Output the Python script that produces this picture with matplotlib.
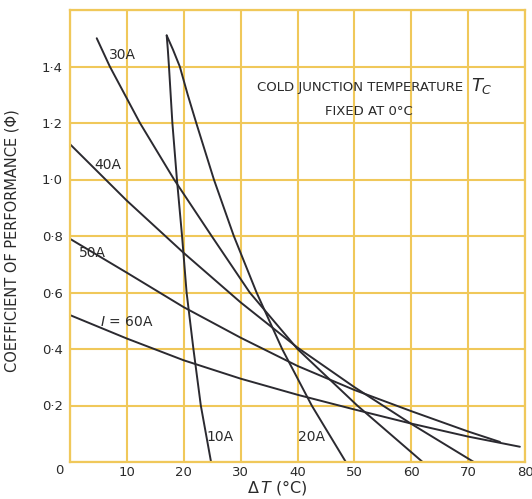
import matplotlib
matplotlib.use('Agg')
import matplotlib.pyplot as plt

# values: delta T (x) vs coefficient of performance (y)
dt_10a = [17.0, 17.2, 17.4, 18.0, 18.8, 19.7, 20.5, 21.7, 23.0, 24.8]
cop_10a = [1.51, 1.46, 1.40, 1.20, 1.00, 0.80, 0.60, 0.40, 0.20, 0.0]

dt_20a = [17.0, 18.1, 19.3, 20.7, 22.2, 25.3, 28.8, 32.8, 37.3, 42.5, 48.5]
cop_20a = [1.51, 1.46, 1.40, 1.30, 1.20, 1.00, 0.80, 0.60, 0.40, 0.20, 0.0]

dt_30a = [4.7, 7.0, 12.3, 18.3, 24.9, 31.6, 40.0, 50.5, 62.0]
cop_30a = [1.50, 1.40, 1.20, 1.00, 0.80, 0.60, 0.40, 0.20, 0.0]

dt_40a = [0, 10, 20, 30, 40, 50, 60, 71.0]
cop_40a = [1.125, 0.925, 0.74, 0.565, 0.405, 0.265, 0.135, 0.0]

dt_50a = [0, 10, 20, 30, 40, 50, 60, 70, 75.6]
cop_50a = [0.79, 0.67, 0.548, 0.44, 0.34, 0.255, 0.18, 0.108, 0.071]

dt_60a = [0, 10, 20, 30, 40, 50, 60, 70, 79.1]
cop_60a = [0.52, 0.437, 0.36, 0.295, 0.238, 0.186, 0.136, 0.09, 0.054]

x_ticks = [0, 10, 20, 30, 40, 50, 60, 70, 80]
y_ticks = [0, 0.2, 0.4, 0.6, 0.8, 1.0, 1.2, 1.4, 1.6]
y_labels = ['', '0·2', '0·4', '0·6', '0·8', '1·0', '1·2', '1·4', '']

grid_col = '#f0c85a'
line_col = '#2b2a30'
txt_col = '#2a2a2a'

fig = plt.figure(figsize=(5.32, 4.99), dpi=100)
ax = fig.add_axes([70 / 532, 37 / 499, 455 / 532, 452 / 499])

for xs, ys in [(dt_10a, cop_10a), (dt_20a, cop_20a), (dt_30a, cop_30a),
               (dt_40a, cop_40a), (dt_50a, cop_50a), (dt_60a, cop_60a)]:
    ax.plot(xs, ys, color=line_col, lw=1.4, solid_capstyle='round', solid_joinstyle='round')

ax.set_xlim(0, 80)
ax.set_ylim(0, 1.6)
ax.set_xticks(x_ticks)
ax.set_xticklabels([''] + [str(v) for v in x_ticks[1:]])
ax.set_yticks(y_ticks)
ax.set_yticklabels(y_labels)
ax.tick_params(length=0, labelsize=9.5, labelcolor=txt_col)
ax.tick_params(axis='x', pad=3)
ax.tick_params(axis='y', pad=5)
ax.grid(True, color=grid_col, lw=1.5)
ax.set_axisbelow(True)
for s in ax.spines.values():
    s.set_color(grid_col)
    s.set_linewidth(1.6)

# shared origin label
ax.text(-1.8, -0.03, '0', ha='center', va='center', fontsize=9.5, color=txt_col, clip_on=False)

ax.set_xlabel(r'$\Delta\,T$ (°C)', fontsize=11.5, color=txt_col)
ax.xaxis.set_label_coords(0.455, -0.036)
ax.set_ylabel('COEFFICIENT OF PERFORMANCE (Φ)', fontsize=10.5, color=txt_col)
ax.yaxis.set_label_coords(-0.11, 0.49)

# curve labels
lab = dict(fontsize=10, color=txt_col, ha='center', va='center')
ax.text(9.2, 1.44, '30A', **lab)
ax.text(6.7, 1.05, '40A', **lab)
ax.text(3.9, 0.74, '50A', **lab)
ax.text(10.0, 0.495, r'$I$ = 60A', **lab)
ax.text(26.4, 0.088, '10A', **lab)
ax.text(42.4, 0.088, '20A', **lab)

ax.text(51.0, 1.325, 'COLD JUNCTION TEMPERATURE', fontsize=9.5, color=txt_col, ha='center', va='center')
ax.text(72.5, 1.33, r'$T_C$', fontsize=13, color=txt_col, ha='center', va='center')
ax.text(52.6, 1.242, 'FIXED AT 0°C', fontsize=9.5, color=txt_col, ha='center', va='center')

fig.savefig('out.png', dpi=100)
